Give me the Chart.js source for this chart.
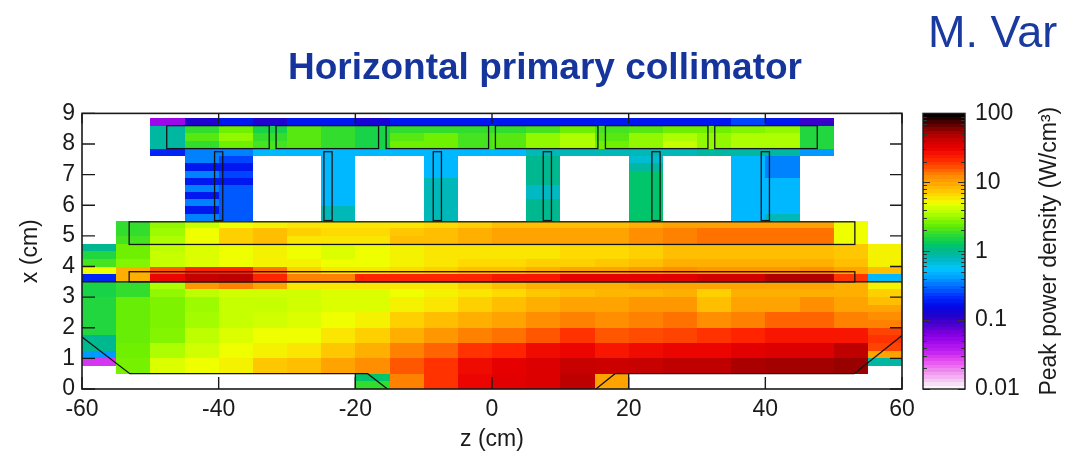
<!DOCTYPE html>
<html><head><meta charset="utf-8">
<script src="https://cdn.jsdelivr.net/npm/chart.js@4.4.1/dist/chart.umd.min.js"></script>
<style>
html,body{margin:0;padding:0;background:#fff;overflow:hidden;}
#wrap{position:relative;width:1066px;height:455px;overflow:hidden;}
#c{position:absolute;left:0;top:0;}
#author{position:absolute;left:928px;top:9px;font-size:45px;line-height:45px;font-family:"Liberation Sans",Arial,sans-serif;color:#1a3aa0;white-space:nowrap;}
</style></head><body>
<div id="wrap"><canvas id="c" width="1066" height="455"></canvas><div id="author">M. Var</div></div>
<script>
const N = null;
// z bin edges (cm)
const zEdges = [-60,-55,-50,-45,-40,-35,-30,-25,-20,-15,-10,-5,0,5,10,15,20,25,30,35,40,45,50,55,60];

// lower jaw, x bin edges (cm) and peak power density rows (W/cm3), bottom to top
const lowerEdges = [0,0.25,0.5,0.75,1,1.25,1.5,1.75,2,2.25,2.5,2.75,3,3.25,3.5];
const lowerRows = [
 [N,N,N,N,N,N,N,N,1.8,13,20,30,33,35,45,10,N,N,N,N,N,N,N,N],
 [N,N,N,N,N,N,N,N,1.2,13,20,30,33,35,45,10,N,N,N,N,N,N,N,N],
 [N,2.6,4.5,5,5.5,7.5,8,10,12,16,20,28,32,35,42,40,42,45,45,50,52,52,55,N],
 [0.03,2.6,4.5,5,5.5,7.5,8,10,12,16,20,28,32,35,42,40,42,45,45,50,52,52,55,0.9],
 [0.4,2.5,3.5,4.2,5,5.5,6,7.5,9,13,15,20,22,28,30,25,28,30,30,33,35,35,45,10],
 [1.0,2.5,3.5,4.2,5,5.5,6,7.5,9,13,15,20,22,28,30,25,28,30,30,33,35,35,45,18],
 [1.0,2.4,2.8,3.8,4.5,5,5,6,7,9,11,13,14,16,20,16,17,18,20,22,25,25,25,20],
 [1.6,2.4,2.8,3.8,4.5,5,5,6,7,9,11,13,14,16,20,16,17,18,20,22,25,25,25,18],
 [1.6,2.4,2.7,3.3,4,4.2,4.5,5,5.5,7,8,9,10,12,13,12,13,14,12,13,15,15,13,13],
 [1.6,2.4,2.7,3.3,4,4.2,4.5,5,5.5,7,8,9,10,12,13,12,13,14,12,13,15,15,13,12],
 [1.6,2.4,2.7,3.2,4,4,4.2,4.5,4.5,5.5,6,7,8,9,10,10,11,11,8,10,10,12,10,10],
 [1.6,2.4,2.7,3.2,4,4,4.2,4.5,4.5,5.5,6,7,8,9,10,10,11,11,8,10,10,12,10,8],
 [1.5,1.8,3,3.8,4.2,4.2,4.2,4.5,4.5,5,5.5,6,6.5,7.5,8,8.5,8.5,9,7,9,9,9,9,7],
 [1.5,1.8,3.5,11,13,10,6,6,6,6,6,7,8,9,9,9,10,10,10,10,10,10,9,5.5]
];

// middle jaw
const middleEdges = [3.5,3.75,4,4.25,4.5,4.75,5,5.25,5.5];
const middleRows = [
 [0.2,9,30,42,45,22,13,13,22,22,22,22,25,25,32,32,32,33,38,38,48,48,20,0.5],
 [5,9,16,22,22,14,7,6,6,6.5,7,8,8,9,10,10,11,12,11,11,11,12,10,8],
 [2,2.8,4,4.5,5,5.5,5.5,5,5,5.5,6,6.5,6.5,7,7,7.5,8,9,9,9,9,9,8,5.5],
 [1.6,2.5,4,4.5,5,5.5,5,4.5,5,5.5,6,6,6,6,6.5,6.5,7,8,8,8,8,8,7.5,5.5],
 [1.0,2.5,3.8,4.5,5,5.5,5,4.5,5,5.5,6,6,6,6,6.5,6.5,7,8,8,8,8,8,7.5,5.5],
 [N,2,3.5,5,7,8,6,6,6,8,8,9,10,10,10,10,12,13,14,14,14,14,5,N],
 [N,1.8,3.2,5,7,8,7,6.5,6.5,7.5,8,9,10,10,10,10,12,13,14,14,14,14,5,N],
 [N,1.8,3,4,5,5.5,6,6,6,6,6.5,7,8,8,8,8,9,10,10,10,10,10,5,N]
];

// pillars
const pillarEdges = [5.5,5.73,5.97,6.2,6.43,6.67,6.9,7.13,7.37,7.6];
const pillarRows = [
 [N,N,N,0.35,0.28,N,N,0.8,N,N,0.8,N,N,1,N,N,1.2,N,N,0.5,0.8,N,N,N],
 [N,N,N,0.18,0.28,N,N,0.8,N,N,0.8,N,N,1,N,N,1.2,N,N,0.5,0.5,N,N,N],
 [N,N,N,0.35,0.28,N,N,0.5,N,N,0.8,N,N,1,N,N,1.2,N,N,0.5,0.5,N,N,N],
 [N,N,N,0.18,0.28,N,N,0.5,N,N,0.8,N,N,0.75,N,N,1.2,N,N,0.5,0.5,N,N,N],
 [N,N,N,0.35,0.28,N,N,0.5,N,N,0.8,N,N,0.75,N,N,1.2,N,N,0.5,0.5,N,N,N],
 [N,N,N,0.18,0.18,N,N,0.5,N,N,0.8,N,N,1,N,N,1.2,N,N,0.5,0.5,N,N,N],
 [N,N,N,0.35,0.25,N,N,0.5,N,N,0.5,N,N,1,N,N,1.2,N,N,0.5,0.35,N,N,N],
 [N,N,N,0.18,0.18,N,N,0.5,N,N,0.5,N,N,1,N,N,0.9,N,N,0.5,0.35,N,N,N],
 [N,N,N,0.35,0.25,N,N,0.5,N,N,0.5,N,N,1,N,N,0.7,N,N,0.5,0.35,N,N,N]
];

// top beam
const beamEdges = [7.6,7.85,8.1,8.35,8.6,8.85];
const beamRows = [
 [N,N,0.2,0.35,0.35,0.5,0.5,0.5,0.5,0.5,0.5,0.5,0.5,0.8,0.8,0.8,0.8,0.8,0.9,0.9,0.9,0.4,N,N],
 [N,N,0.9,1.8,2.5,2,2.2,1.8,1.5,2.5,2.5,2,2.2,3,3.5,2.5,3,4,3,3.5,3.5,1.6,N,N],
 [N,N,0.9,2.2,3,1.8,2.2,1.8,1.5,2.2,2.5,2,2.2,3,3.5,2.2,3,3.5,3,3.5,3.5,1.6,N,N],
 [N,N,0.9,1.8,2.5,1.5,2.2,1.8,1.5,1.8,1.8,1.8,1.8,2,2.5,2,2.2,2.5,2.5,2.8,3,1.6,N,N],
 [N,N,0.05,0.12,0.18,0.12,0.18,0.18,0.13,0.18,0.18,0.18,0.18,0.18,0.18,0.18,0.18,0.18,0.18,0.25,0.18,0.1,N,N]
];

// geometry outlines (cm)
const beamBlocks = [[-47.6,-32.6],[-31.6,-16.6],[-15.5,-0.5],[0.5,15.5],[16.6,31.6],[32.6,47.6]];
const beamBlockX = [7.85,8.6];
const posts = [[-40.6,-39.4],[-24.6,-23.4],[-8.6,-7.4],[7.5,8.7],[23.4,24.6],[39.4,40.6]];
const postX = [5.5,7.75];
const jawRects = [[-53.1,53.1,4.72,5.46],[-53.1,53.1,3.5,3.83]];
const outlineLines = [
 [[-60,1.7],[-53,0.5],[-18.2,0.5],[-15.3,0]],
 [[15.2,0],[18,0.5],[53,0.5],[60,1.75]],
 [[-60,3.5],[60,3.5]],
 [[-20,0],[-20,0.5]],
 [[20,0],[20,0.5]]
];

const xTickValues = [-60,-40,-20,0,20,40,60];
const yTickValues = [0,1,2,3,4,5,6,7,8,9];
const cbTickValues = [0.01,0.1,1,10,100];
const cbTickLabels = ['0.01','0.1','1','10','100'];

// colormap (log10 value -> colour)
const cmapStops = [
 [-2.0,'#ffffff'],[-1.9,'#f4d4f4'],[-1.75,'#f090f0'],[-1.6,'#e850f0'],[-1.45,'#c020f0'],
 [-1.25,'#9000e8'],[-1.1,'#5800d0'],[-0.95,'#2800c8'],[-0.8,'#0008e8'],[-0.65,'#0030ff'],
 [-0.5,'#0070ff'],[-0.38,'#00a0ff'],[-0.25,'#00c8ff'],[-0.12,'#00b8c0'],[0.0,'#00b890'],
 [0.1,'#00c860'],[0.25,'#30dc30'],[0.4,'#70f000'],[0.55,'#b0ff00'],[0.7,'#f0ff00'],
 [0.82,'#ffd800'],[0.95,'#ffb000'],[1.1,'#ff8800'],[1.22,'#ff5000'],[1.35,'#ff2000'],
 [1.5,'#e80000'],[1.65,'#c00000'],[1.76,'#900000'],[1.86,'#500000'],[1.95,'#100000'],[2.0,'#000000']
];
function hexRgb(h){return [parseInt(h.substr(1,2),16),parseInt(h.substr(3,2),16),parseInt(h.substr(5,2),16)];}
const stopRgb = cmapStops.map(s=>[s[0],hexRgb(s[1])]);
function colorAtLog(L){
  if (L<=-2) return 'rgb(255,255,255)';
  if (L>=2) return 'rgb(0,0,0)';
  for (let i=0;i<stopRgb.length-1;i++){
    const a=stopRgb[i], b=stopRgb[i+1];
    if (L>=a[0] && L<=b[0]){
      const t=(L-a[0])/(b[0]-a[0]);
      const c=a[1].map((v,k)=>Math.round(v+(b[1][k]-v)*t));
      return 'rgb('+c.join(',')+')';
    }
  }
  return '#000';
}
function colorFor(v){ return colorAtLog(Math.log10(v)); }

// build cell records from the bands
const bands = [[lowerEdges,lowerRows],[middleEdges,middleRows],[pillarEdges,pillarRows],[beamEdges,beamRows]];
const cells = [];
bands.forEach(([edges, rows]) => {
  rows.forEach((row, r) => {
    row.forEach((v, c) => {
      if (v === null) return;
      cells.push({x:(zEdges[c]+zEdges[c+1])/2, y:(edges[r]+edges[r+1])/2,
        z0:zEdges[c], z1:zEdges[c+1], x0:edges[r], x1:edges[r+1], v:v});
    });
  });
});

const FONT = "'Liberation Sans', Arial, Helvetica, sans-serif";
Chart.defaults.font.family = FONT;
Chart.defaults.color = '#1a1a1a';

const heatPlugin = {
  id: 'heatmap',
  beforeDatasetsDraw(chart){
    const {ctx, chartArea:a, scales:{x, y}} = chart;
    ctx.save();
    ctx.beginPath(); ctx.rect(a.left,a.top,a.width,a.height); ctx.clip();
    for (const c of chart.data.datasets[0].data){
      const l=Math.round(x.getPixelForValue(c.z0)), r=Math.round(x.getPixelForValue(c.z1));
      const t=Math.round(y.getPixelForValue(c.x1)), b=Math.round(y.getPixelForValue(c.x0));
      ctx.fillStyle = colorFor(c.v);
      ctx.fillRect(l,t,r-l,b-t);
    }
    ctx.restore();
  },
  afterDatasetsDraw(chart){
    const {ctx, scales:{x, y}} = chart;
    const X=v=>x.getPixelForValue(v), Y=v=>y.getPixelForValue(v);
    ctx.save();
    ctx.strokeStyle='#141414'; ctx.lineWidth=1.3;
    const rect=(z0,z1,x0,x1)=>{ctx.strokeRect(X(z0),Y(x1),X(z1)-X(z0),Y(x0)-Y(x1));};
    beamBlocks.forEach(b=>rect(b[0],b[1],beamBlockX[0],beamBlockX[1]));
    posts.forEach(p=>rect(p[0],p[1],postX[0],postX[1]));
    jawRects.forEach(j=>rect(j[0],j[1],j[2],j[3]));
    outlineLines.forEach(line=>{
      ctx.beginPath();
      line.forEach((p,i)=>{ if(i===0) ctx.moveTo(X(p[0]),Y(p[1])); else ctx.lineTo(X(p[0]),Y(p[1])); });
      ctx.stroke();
    });
    ctx.restore();
  },
  afterDraw(chart){
    const {ctx, chartArea:a, scales:{x, y, cb}} = chart;
    ctx.save();
    // frame and inward ticks
    ctx.strokeStyle='#1a1a1a'; ctx.lineWidth=1.6;
    ctx.strokeRect(a.left,a.top,a.width,a.height);
    ctx.lineWidth=1.4;
    ctx.beginPath();
    xTickValues.forEach(v=>{const p=x.getPixelForValue(v); ctx.moveTo(p,a.bottom); ctx.lineTo(p,a.bottom-12); ctx.moveTo(p,a.top); ctx.lineTo(p,a.top+10);});
    yTickValues.forEach(v=>{const p=y.getPixelForValue(v); ctx.moveTo(a.left,p); ctx.lineTo(a.left+13,p); ctx.moveTo(a.right,p); ctx.lineTo(a.right-12,p);});
    ctx.stroke();
    // colour bar
    const bl=cb.left-42, br=cb.left;
    for (let k=0;k<80;k++){
      const lo=-2+k*0.05, hi=lo+0.05;
      const t=Math.round(cb.getPixelForValue(Math.pow(10,hi))), b=Math.round(cb.getPixelForValue(Math.pow(10,lo)));
      ctx.fillStyle=colorAtLog(lo+0.025);
      ctx.fillRect(bl,t,br-bl,b-t);
    }
    ctx.strokeStyle='#333'; ctx.lineWidth=1;
    ctx.beginPath();
    for (let d=-2; d<2; d++){
      for (let m=1;m<10;m++){
        const v=m*Math.pow(10,d); const p=Math.round(cb.getPixelForValue(v))+0.5;
        const len = m===1?7:4;
        ctx.moveTo(bl,p); ctx.lineTo(bl+len,p); ctx.moveTo(br,p); ctx.lineTo(br-len,p);
      }
    }
    ctx.stroke();
    ctx.strokeStyle='#1a1a1a'; ctx.lineWidth=1.4;
    ctx.strokeRect(bl,cb.top,br-bl,cb.bottom-cb.top);
    // colour bar title
    ctx.translate(cb.right-40,(cb.top+cb.bottom)/2);
    ctx.rotate(-Math.PI/2);
    ctx.font="23px "+FONT; ctx.fillStyle='#1a1a1a'; ctx.textAlign='center'; ctx.textBaseline='middle';
    ctx.fillText('Peak power density (W/cm³)',0,0);
    ctx.restore();
  }
};

new Chart(document.getElementById('c'), {
  type:'scatter',
  data:{datasets:[{label:'Peak power density (W/cm³)', data:cells, pointRadius:0, pointHoverRadius:0, showLine:false}]},
  options:{
    responsive:false, animation:false, devicePixelRatio:1,
    layout:{padding:{left:0,right:-24,top:0,bottom:0}},
    plugins:{
      legend:{display:false}, tooltip:{enabled:false},
      title:{display:true, text:'Horizontal primary collimator', color:'#16359c',
        font:{size:37, weight:'bold', family:FONT, lineHeight:1.2}, padding:{top:47,bottom:22}}
    },
    scales:{
      x:{type:'linear', position:'bottom', min:-60, max:60,
        grid:{display:false, drawTicks:false}, border:{display:false},
        ticks:{stepSize:20, padding:7, font:{size:23}, color:'#1a1a1a', maxRotation:0},
        title:{display:true, text:'z (cm)', font:{size:23}, color:'#1a1a1a', padding:{top:0,bottom:2}},
        afterFit:s=>{s.height=66;}},
      y:{type:'linear', position:'left', min:0, max:9,
        grid:{display:false, drawTicks:false}, border:{display:false},
        ticks:{stepSize:1, padding:7, font:{size:23}, color:'#1a1a1a'},
        title:{display:true, text:'x (cm)', font:{size:23}, color:'#1a1a1a', padding:{top:17,bottom:0}},
        afterFit:s=>{s.width=82;}},
      y2:{axis:'y', type:'linear', position:'right', min:0, max:9, weight:0,
        grid:{display:false, drawTicks:false}, border:{display:false}, ticks:{display:false},
        afterFit:s=>{s.width=63;}},
      cb:{axis:'y', type:'logarithmic', position:'right', min:0.01, max:100, weight:1,
        grid:{display:false, drawTicks:false}, border:{display:false},
        afterBuildTicks:s=>{s.ticks=cbTickValues.map(v=>({value:v}));},
        ticks:{padding:10, font:{size:23}, color:'#1a1a1a', autoSkip:false,
          callback:(v)=>{const i=cbTickValues.indexOf(v); return i>=0?cbTickLabels[i]:'';}},
        afterFit:s=>{s.width=125;}}
    }
  },
  plugins:[heatPlugin]
});
</script>
</body></html>
